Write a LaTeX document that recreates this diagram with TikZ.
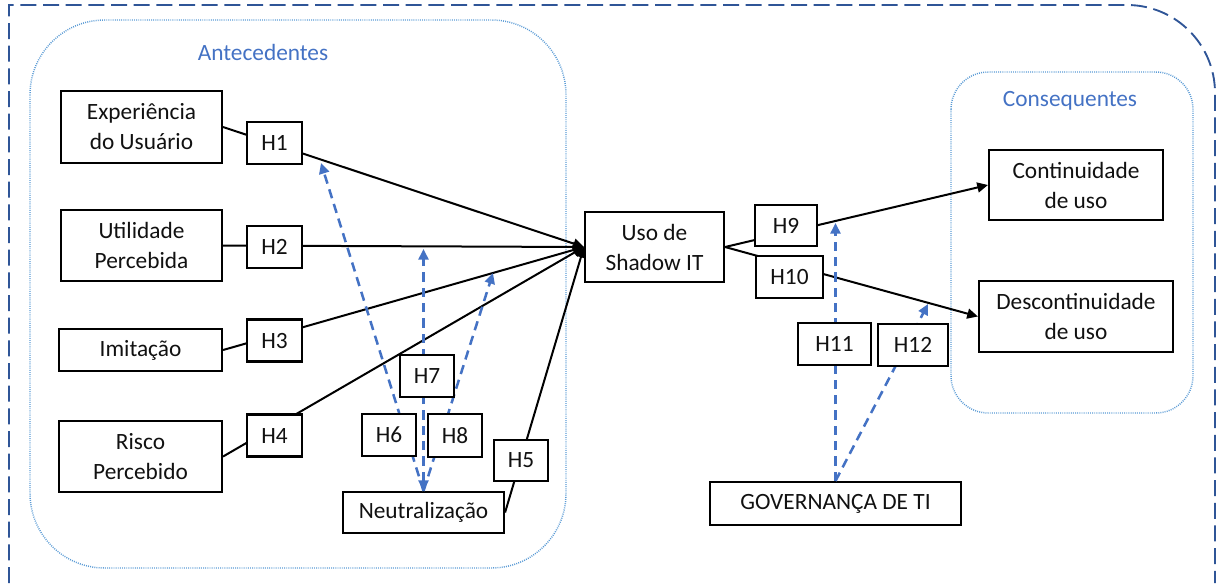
\documentclass[tikz,border=0pt]{standalone}
\usepackage{fontspec}
\setmainfont{Carlito}
\usetikzlibrary{arrows.meta,calc}
\definecolor{framecol}{HTML}{2F5597}
\definecolor{groupcol}{HTML}{5B9BD5}
\definecolor{labelcol}{HTML}{4472C4}
\definecolor{modcol}{HTML}{4472C4}
\definecolor{inkcol}{HTML}{111111}

\begin{document}
\begin{tikzpicture}[x=0.75pt,y=-0.75pt,
  every node/.style={font=\fontsize{17.5}{22.5}\selectfont, text=inkcol},
  box/.style={draw=black, line width=1.6pt, fill=white, align=center, inner sep=0pt},
  hyp/.style={box, minimum width=41.25pt, minimum height=31.5pt},
  link/.style={draw=black, line width=1.5pt},
  arr/.style={link, -{Triangle[length=8pt,width=7.5pt]}},
  mod/.style={draw=modcol, line width=1.9pt, dash pattern=on 7pt off 4.5pt,
              -{Triangle[length=8pt,width=7.5pt]}},
  group/.style={draw=groupcol, line width=1.1pt, dash pattern=on 0.7pt off 0.9pt},
  grouplabel/.style={text=labelcol}]

\useasboundingbox (0,0) rectangle (1217,583);

% outer frame (only the top-right corner is rounded)
\draw[framecol, line width=1.4pt, dash pattern=on 12pt off 5pt]
  (9,583) -- (9,5) -- (1127,5) arc[start angle=90, end angle=0, radius=66pt] -- (1215,583);

% groups
\draw[group, rounded corners=56pt] (30,20) rectangle (566,568);
\draw[group, rounded corners=28pt] (951,72) rectangle (1193,413);
\node[grouplabel] (lblA) at (263,52) {Antecedentes};
\node[grouplabel] (lblC) at (1070,101) {Consequentes};

% constructs
\node[box, minimum width=120.75pt, minimum height=54pt]   (exp)  at (141.5,127)   {Experiência\\do Usuário};
\node[box, minimum width=120.75pt, minimum height=53.25pt](util) at (141.5,245.5) {Utilidade\\Percebida};
\node[box, minimum width=122.25pt, minimum height=31.5pt] (imit) at (140.5,350)   {Imitação};
\node[box, minimum width=122.25pt, minimum height=53.25pt](risk) at (140.5,456.5) {Risco\\Percebido};
\node[box, minimum width=120.75pt, minimum height=30.75pt](neut) at (423.5,512.5) {Neutralização};
\node[box, minimum width=104.25pt, minimum height=52.5pt] (sit)  at (654.5,247)   {Uso de\\Shadow IT};
\node[box, minimum width=130.5pt, minimum height=52.5pt]  (cont) at (1076,185)    {Continuidade\\de uso};
\node[box, minimum width=145.5pt, minimum height=53.25pt] (desc) at (1076,316.5)  {Descontinuidade\\de uso};
\node[box, minimum width=188.25pt, minimum height=32.25pt](gov)  at (835.5,503.5) {GOVERNANÇA DE TI};

% direct effects
\draw[arr] (exp.east)  -- (sit.west);
\draw[arr] (util.east) -- (sit.west);
\draw[arr] (imit.east) -- (sit.west);
\draw[arr] (risk.east) -- (sit.west);
\draw[arr] (neut.east) -- (sit.west);
\draw[arr] (sit.east)  -- (cont.west);
\draw[arr] (sit.east)  -- (desc.west);

% moderating effects
\coordinate (m6)  at (321,163);
\coordinate (m7)  at (423.5,249);
\coordinate (m8)  at (493,273);
\coordinate (m11) at (835.5,223);
\coordinate (m12) at (928,304);
\draw[mod] (neut.north) -- (m6);
\draw[mod, {Triangle[length=8pt,width=7.5pt]}-{Triangle[length=8pt,width=7.5pt]}] (neut.north) -- (m7);
\draw[mod] (neut.north) -- (m8);
\draw[mod] (gov.north) -- (m11);
\draw[mod] (gov.north) -- (m12);

% hypothesis labels
\node[hyp] (h1) at (274.5,143)   {H1};
\node[hyp] (h2) at (274.5,247)   {H2};
\node[hyp] (h3) at (274.5,340.5) {H3};
\node[hyp] (h4) at (274.5,435.5) {H4};
\node[hyp, minimum width=40.5pt, minimum height=30.75pt] (h5) at (521,460.5) {H5};
\node[hyp, minimum width=40.5pt] (h6) at (389,435)   {H6};
\node[hyp, minimum width=40.5pt] (h7) at (427,376)   {H7};
\node[hyp, minimum width=40.5pt, minimum height=32.25pt] (h8) at (455,435.5) {H8};
\node[hyp, minimum width=46.5pt, minimum height=30.75pt] (h9)  at (786,225.5) {H9};
\node[hyp, minimum width=50.25pt] (h10) at (789.5,277) {H10};
\node[hyp, minimum width=54.75pt] (h11) at (834.5,344) {H11};
\node[hyp, minimum width=52.5pt]  (h12) at (913,345)   {H12};
\end{tikzpicture}
\end{document}
